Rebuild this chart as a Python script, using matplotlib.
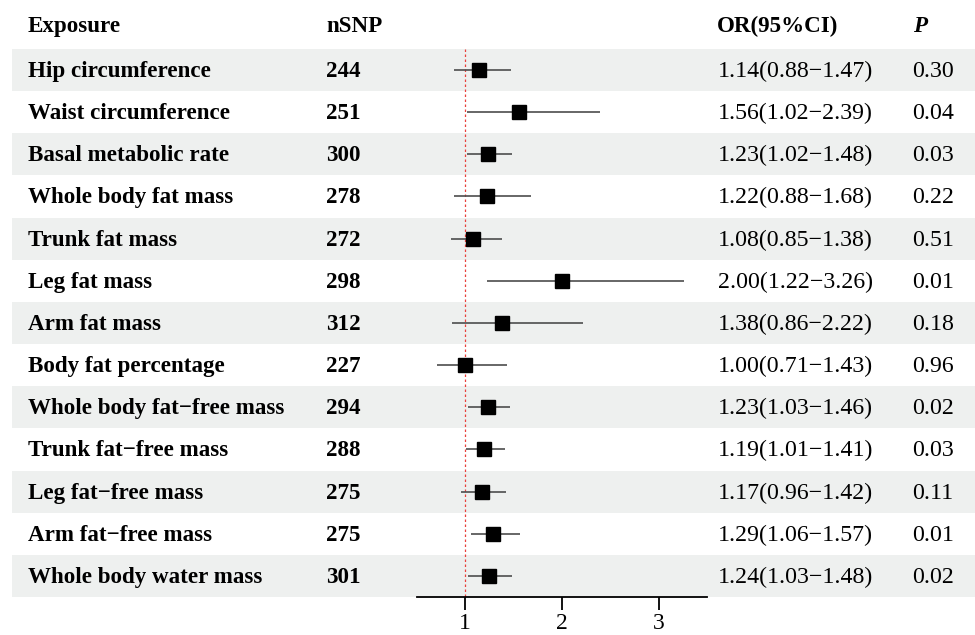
import matplotlib
matplotlib.use("Agg")
import matplotlib.pyplot as plt

exposures = ["Hip circumference", "Waist circumference", "Basal metabolic rate",
             "Whole body fat mass", "Trunk fat mass", "Leg fat mass", "Arm fat mass",
             "Body fat percentage", "Whole body fat\u2212free mass", "Trunk fat\u2212free mass",
             "Leg fat\u2212free mass", "Arm fat\u2212free mass", "Whole body water mass"]
nsnp = [244, 251, 300, 278, 272, 298, 312, 227, 294, 288, 275, 275, 301]
or_val = [1.14, 1.56, 1.23, 1.22, 1.08, 2.00, 1.38, 1.00, 1.23, 1.19, 1.17, 1.29, 1.24]
ci_low = [0.88, 1.02, 1.02, 0.88, 0.85, 1.22, 0.86, 0.71, 1.03, 1.01, 0.96, 1.06, 1.03]
ci_high = [1.47, 2.39, 1.48, 1.68, 1.38, 3.26, 2.22, 1.43, 1.46, 1.41, 1.42, 1.57, 1.48]
pvals = ["0.30", "0.04", "0.03", "0.22", "0.51", "0.01", "0.18", "0.96", "0.02", "0.03", "0.11", "0.01", "0.02"]
xticks = [1, 2, 3]

plt.rcParams['font.family'] = ['Liberation Serif', 'DejaVu Serif']
W, H = 975, 635
fig = plt.figure(figsize=(W / 100, H / 100), dpi=100)

n = len(exposures)
y_top, y_bot = -0.66, 14.40
rows = list(range(1, n + 1))

# background / table axes
bg = fig.add_axes([0, 0, 1, 1])
bg.set_xlim(0, W)
bg.set_ylim(y_bot, y_top)
bg.axis('off')
for k in rows:
    if k % 2 == 1:
        bg.axhspan(k - 0.5, k + 0.5, xmin=12 / W, xmax=1, color='#EEF0EF', lw=0, zorder=0)

fsb = 16.6
fsn = 17.2
hy = 0.10
off = 0.165
bg.text(28, hy, "Exposure", fontsize=fsb, fontweight='bold', va='baseline', ha='left')
bg.text(326, hy, "nSNP", fontsize=fsb, fontweight='bold', va='baseline', ha='left')
bg.text(717, hy, "OR(95%CI)", fontsize=fsb, fontweight='bold', va='baseline', ha='left')
bg.text(913, hy, "P", fontsize=fsb, fontweight='bold', style='italic', va='baseline', ha='left')
for k, e, ns, o, lo, hi, p in zip(rows, exposures, nsnp, or_val, ci_low, ci_high, pvals):
    bg.text(28, k + off, e, fontsize=fsb, fontweight='bold', va='baseline', ha='left')
    bg.text(326, k + off, str(ns), fontsize=fsb, fontweight='bold', va='baseline', ha='left')
    bg.text(718, k + off, f"{o:.2f}({lo:.2f}\u2212{hi:.2f})", fontsize=fsn, va='baseline', ha='left')
    bg.text(912, k + off, p, fontsize=fsn, va='baseline', ha='left')

# forest axes
x0, x1 = 417, 707
yb = 597
ax = fig.add_axes([x0 / W, (H - yb) / H, (x1 - x0) / W, yb / H])
ax.set_facecolor('none')
ax.set_xlim(0.5, 3.5)
ax.set_ylim(n + 0.5, y_top)
for s in ['top', 'right', 'left']:
    ax.spines[s].set_visible(False)
ax.spines['bottom'].set_linewidth(1.3)
ax.set_yticks([])
ax.set_xticks(xticks)
ax.set_xticklabels([str(t) for t in xticks], fontsize=17)
ax.tick_params(axis='x', length=9.5, width=1.3, pad=2)
ax.vlines(1, 0.5, n + 0.5, colors='#E8413C', linestyles=(0, (2, 2)), linewidth=0.9, zorder=1)
ax.hlines(rows, ci_low, ci_high, colors='#4d4d4d', linewidth=1.2, zorder=2)
ax.plot(or_val, rows, 's', color='black', markersize=9.5, zorder=3, linestyle='none')

fig.savefig("out.png", dpi=100)
